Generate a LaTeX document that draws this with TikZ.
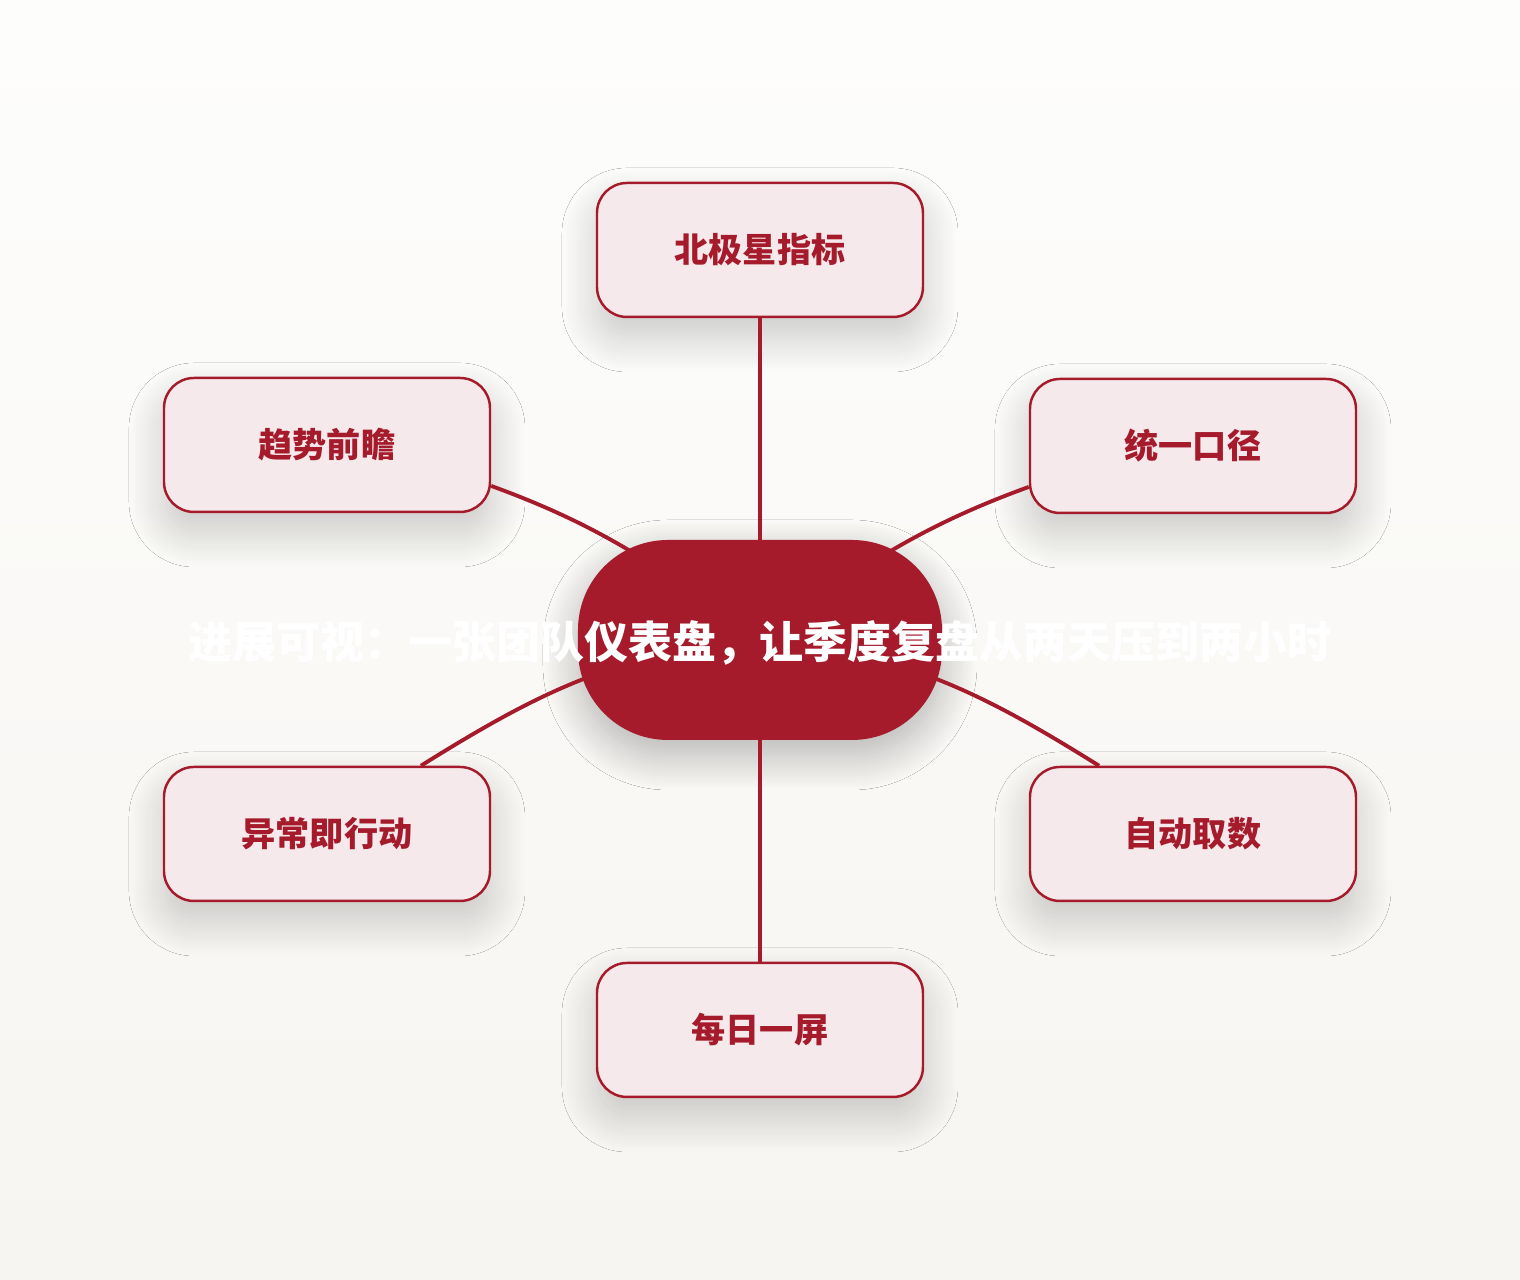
\documentclass[tikz,border=0pt]{standalone}
\usepackage{fontspec}
\usepackage{tikz}
\usetikzlibrary{shadows.blur}
\newfontfamily\cjk{Noto Sans CJK SC}
\definecolor{rojo}{HTML}{A51B2B}
\definecolor{rosa}{HTML}{F5E9EC}
\definecolor{fondoA}{HTML}{FDFDFC}
\definecolor{fondoB}{HTML}{F7F5F1}

\begin{document}
\begin{tikzpicture}
    \tikzset{myHub/.style = {shape=rectangle,fill=rojo,rounded corners=0.9cm,minimum width=3.64cm,minimum height=2cm,blur shadow={shadow xshift=0pt,shadow yshift=-0.15cm,shadow blur radius=0.35cm,shadow blur steps=16,shadow opacity=28}}}
    \tikzset{Caja/.style = {shape=rectangle,draw=rojo,line width=0.7pt,fill=rosa,rounded corners=0.3cm,minimum width=3.26cm,minimum height=1.34cm,text=rojo,font=\cjk\bfseries\fontsize{9.7}{12}\selectfont,blur shadow={shadow xshift=0pt,shadow yshift=-0.2cm,shadow blur radius=0.35cm,shadow blur steps=16,shadow opacity=20}}}
    \tikzset{Titulo/.style = {text=white,font=\cjk\bfseries\fontsize{12.5}{15}\selectfont}}

    \tikzset{enlace/.style = {draw=rojo,line width=1.1pt}}

    \fill[top color=fondoA,bottom color=fondoB] (-7.6,-6.4) rectangle (7.6,6.4);
    \useasboundingbox (-7.6,-6.4) rectangle (7.6,6.4);

    \node[myHub] (Centro) at (0,0) {};

    \node[Caja] (CajaN) at (0,3.9) {北极星指标};
    \node[Caja] (CajaNE) at (4.33,1.94) {统一口径};
    \node[Caja] (CajaSE) at (4.33,-1.94) {自动取数};
    \node[Caja] (CajaS) at (0,-3.9) {每日一屏};
    \node[Caja] (CajaSO) at (-4.33,-1.94) {异常即行动};
    \node[Caja] (CajaNO) at (-4.33,1.95) {趋势前瞻};

    \draw[enlace] (Centro.center) -- (CajaN.south);
    \draw[enlace] (Centro.center) to[out=36,in=200] (CajaNE.194);
    \draw[enlace] (Centro.center) to[out=-5,in=148] (CajaSE.144);
    \draw[enlace] (Centro.center) -- (CajaS.north);
    \draw[enlace] (Centro.center) to[out=185,in=32] (CajaSO.36);
    \draw[enlace] (Centro.center) to[out=144,in=-20] (CajaNO.346);

    \node[Titulo] (Lema) at (0,-0.03) {进展可视：一张团队仪表盘，让季度复盘从两天压到两小时};

\end{tikzpicture}
\end{document}
